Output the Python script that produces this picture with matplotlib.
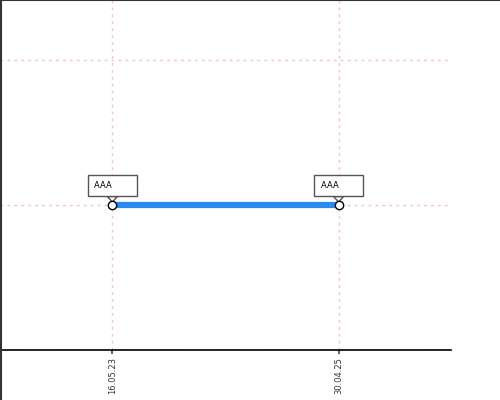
import matplotlib
matplotlib.use("Agg")
import matplotlib.pyplot as plt
from matplotlib.lines import Line2D
import pandas as pd

dates = pd.to_datetime(["2023-05-16", "2025-04-30"])
values = [1, 1]
labels = ["AAA", "AAA"]
tickLabels = ["16.05.23", "30.04.25"]

fig = plt.figure(figsize=(5, 4), dpi=100)
ax = fig.add_axes([0.0, 0.125, 0.902, 0.875])

ax.plot(dates, values, color="#2b8af0", linewidth=4.5, solid_capstyle="butt", zorder=3)
ax.plot(dates, values, "o", markersize=6, markerfacecolor="white",
        markeredgecolor="black", markeredgewidth=1, zorder=6)

for d, v, lab in zip(dates, values, labels):
    ax.annotate(lab + "       ", xy=(d, v), xytext=(0, 14), textcoords="offset points",
                ha="center", va="center", fontsize=6, zorder=5,
                bbox=dict(boxstyle="square,pad=0.75", fc="white", ec="#555555", lw=1),
                arrowprops=dict(arrowstyle="wedge,tail_width=1.2,shrink_factor=0.5",
                                fc="white", ec="#555555", lw=1, shrinkA=0, shrinkB=2))

ax.set_ylim(0, 2.41)
ax.set_yticks([0, 1, 2])
ax.set_yticklabels([])
ax.margins(x=0.497)
ax.set_xticks(dates)
ax.set_xticklabels(tickLabels, rotation=90, fontsize=6, color="#333333")

ax.grid(True, color="#f0c4cc", linestyle=(0, (2, 3)), linewidth=1)
ax.set_axisbelow(True)
ax.tick_params(axis="x", length=3, color="#666666", width=1.5, pad=2)
ax.tick_params(axis="y", length=3, color="black", width=1.5, direction="out")

for s in ["top", "right"]:
    ax.spines[s].set_visible(False)
ax.spines["bottom"].set_color("black")
ax.spines["left"].set_color("black")
ax.spines["bottom"].set_linewidth(1.2)
ax.spines["left"].set_linewidth(1.2)

fig.add_artist(Line2D([0, 1], [0.999, 0.999], color="#333333", linewidth=1.5))
fig.add_artist(Line2D([0.001, 0.001], [0, 1], color="#333333", linewidth=1.5))

fig.savefig("out.png", dpi=100)
